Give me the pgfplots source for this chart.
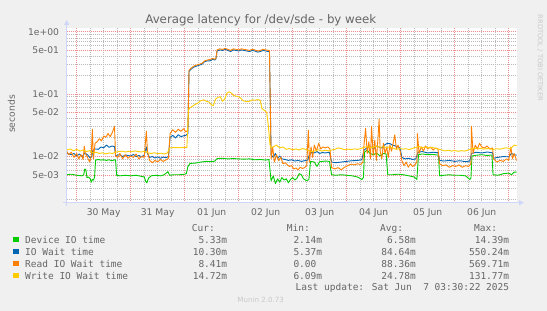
\documentclass[border=0pt]{standalone}
\usepackage{pgfplots}
\pgfplotsset{compat=1.18}
\usepackage{fontspec}
\setmainfont{DejaVu Sans}
\newfontfamily\monofont{DejaVu Sans Mono}
\usetikzlibrary{arrows.meta}
\definecolor{bg}{HTML}{F0F0F0}
\definecolor{fontc}{HTML}{666666}
\definecolor{axisc}{HTML}{CFD6F8}
\definecolor{majc}{HTML}{EE9090}
\definecolor{minc}{HTML}{BBBBBB}
\definecolor{wmark}{HTML}{C8C8C8}
\definecolor{cgreen}{HTML}{00CC00}
\definecolor{cblue}{HTML}{0066B3}
\definecolor{corange}{HTML}{FF8000}
\definecolor{cyellow}{HTML}{FFCC00}
\begin{document}
\begin{tikzpicture}[x=1pt,y=1pt]
\path[use as bounding box, fill=bg] (0,0) rectangle (547,311);
\begin{axis}[
  at={(66.7pt,108.3pt)}, anchor=south west,
  scale only axis, width=450pt, height=174.7pt,
  xmin=-0.185, xmax=8.148,
  ymode=log, ymin=1.774e-3, ymax=1.148,
  axis line style={draw=none},
  axis background/.style={fill=white},
  xtick={0,1,2,3,4,5,6,7,8}, xticklabels={},
  minor xtick={0.25,0.5,...,8},
  extra x ticks={0.5,1.5,2.5,3.5,4.5,5.5,6.5,7.5},
  extra x tick labels={30 May,31 May,01 Jun,02 Jun,03 Jun,04 Jun,05 Jun,06 Jun},
  extra x tick style={grid=none},
  ytick={0.005,0.01,0.05,0.1,0.5,1},
  yticklabels={5e-03,1e-02,5e-02,1e-01,5e-01,1e+00},
  minor ytick={0.002,0.003,0.004,0.006,0.007,0.008,0.009,0.02,0.03,0.04,0.06,0.07,0.08,0.09,0.2,0.3,0.4,0.6,0.7,0.8,0.9},
  grid=both,
  major grid style={draw=majc, dash pattern=on 1pt off 1pt, line width=0.45pt},
  minor grid style={draw=minc, dash pattern=on 1pt off 1pt, line width=0.45pt},
  major tick length=0pt, minor tick length=0pt,
  tick label style={font=\fontsize{9.2}{11}\selectfont, text=fontc},
  xticklabel style={anchor=north, inner sep=0pt, yshift=-6pt},
  yticklabel style={anchor=east, inner sep=0pt, xshift=-7.5pt},
  every axis plot/.append style={line width=0.9pt, line join=round, mark=none},
]
% Device IO time
\addplot[cgreen] coordinates {
(-0.185,0.0050)(-0.1,0.0051)(0.0,0.0049)(0.1,0.0048)(0.13,0.0050)(0.15,0.0062)(0.17,0.0060)(0.19,0.0045)(0.22,0.0046)(0.25,0.0043)(0.27,0.0038)(0.29,0.0042)(0.31,0.0041)(0.33,0.0045)
(0.35,0.0086)(0.4,0.0088)(0.45,0.0086)(0.5,0.0087)(0.55,0.0085)(0.6,0.0087)(0.65,0.0084)(0.7,0.0087)(0.72,0.0086)
(0.74,0.0049)(0.8,0.0048)(0.9,0.0049)(1.0,0.0048)(1.1,0.0049)(1.2,0.0047)(1.25,0.0046)(1.28,0.0039)(1.3,0.0037)(1.33,0.0044)(1.38,0.0048)(1.45,0.0049)(1.55,0.0048)(1.62,0.0050)(1.69,0.0056)(1.72,0.0049)(1.8,0.0050)(1.9,0.0050)(2.0,0.0051)(2.03,0.0052)
(2.06,0.0068)(2.1,0.0076)(2.2,0.0077)(2.3,0.0080)(2.4,0.0082)(2.5,0.0081)(2.56,0.0083)(2.6,0.0091)(2.7,0.0092)(2.8,0.0090)(2.9,0.0091)(3.0,0.0090)(3.1,0.0089)(3.2,0.0090)(3.3,0.0087)(3.4,0.0088)(3.5,0.0086)(3.56,0.0088)
(3.6,0.0040)(3.64,0.0048)(3.68,0.0036)(3.72,0.0043)(3.76,0.0038)(3.8,0.0045)(3.84,0.0041)(3.88,0.0043)(3.92,0.0037)(3.96,0.0042)(4.0,0.0045)(4.04,0.0041)(4.08,0.0044)(4.12,0.0052)(4.16,0.0050)(4.2,0.0043)(4.26,0.0040)(4.3,0.0042)
(4.33,0.0082)(4.4,0.0080)(4.45,0.0068)(4.5,0.0081)(4.6,0.0083)(4.68,0.0082)
(4.72,0.0050)(4.8,0.0049)(4.9,0.0050)(5.0,0.0049)(5.1,0.0048)(5.2,0.0046)(5.28,0.0042)(5.31,0.0045)
(5.33,0.0115)(5.38,0.0125)(5.43,0.0110)(5.5,0.0105)(5.55,0.0112)(5.62,0.0100)(5.68,0.0110)(5.73,0.0108)
(5.76,0.0050)(5.85,0.0050)(5.95,0.0051)(6.05,0.0050)(6.15,0.0048)(6.25,0.0046)(6.3,0.0042)
(6.33,0.0105)(6.4,0.0108)(6.5,0.0105)(6.6,0.0106)(6.7,0.0103)
(6.72,0.0048)(6.8,0.0049)(6.9,0.0050)(7.0,0.0049)(7.1,0.0049)(7.2,0.0048)(7.28,0.0042)(7.3,0.0044)
(7.32,0.0100)(7.4,0.0103)(7.5,0.0105)(7.6,0.0102)(7.69,0.0104)
(7.71,0.0050)(7.8,0.0049)(7.9,0.0052)(8.0,0.0053)(8.05,0.0050)(8.1,0.0055)(8.148,0.0055)
};
% IO Wait time
\addplot[cblue] coordinates {
(-0.185,0.0112)(-0.15,0.0108)(-0.1,0.0105)(-0.05,0.0110)(0.0,0.0100)(0.05,0.0108)(0.1,0.0097)(0.15,0.0112)(0.2,0.0105)(0.25,0.0093)(0.28,0.0098)
(0.3,0.0125)(0.35,0.0130)(0.4,0.0128)(0.45,0.0140)(0.5,0.0135)(0.55,0.0150)(0.6,0.0138)(0.65,0.0145)(0.7,0.0142)
(0.72,0.0102)(0.8,0.0105)(0.85,0.0098)(0.9,0.0104)(1.0,0.0100)(1.05,0.0106)(1.1,0.0098)(1.15,0.0102)(1.2,0.0097)(1.25,0.0103)(1.29,0.0140)(1.31,0.0110)(1.35,0.0095)(1.4,0.0098)(1.45,0.0093)(1.5,0.0097)(1.55,0.0092)(1.6,0.0096)(1.65,0.0094)(1.7,0.0098)
(1.73,0.0200)(1.78,0.0215)(1.83,0.0195)(1.88,0.0220)(1.93,0.0205)(1.98,0.0212)(2.02,0.0215)(2.06,0.0230)
(2.08,0.23)(2.12,0.25)(2.17,0.27)(2.22,0.28)(2.27,0.29)(2.32,0.30)(2.37,0.33)(2.42,0.34)(2.47,0.34)(2.52,0.36)(2.56,0.35)(2.58,0.37)
(2.6,0.49)(2.65,0.51)(2.7,0.50)(2.75,0.52)(2.8,0.50)(2.85,0.48)(2.9,0.51)(2.95,0.50)(3.0,0.49)(3.05,0.51)(3.1,0.50)(3.15,0.49)(3.2,0.48)(3.25,0.50)(3.3,0.49)(3.35,0.47)(3.4,0.48)(3.45,0.50)(3.5,0.49)(3.55,0.48)(3.57,0.47)
(3.6,0.0105)(3.64,0.0095)(3.68,0.0110)(3.72,0.0092)(3.76,0.0100)(3.8,0.0090)(3.86,0.0088)(3.92,0.0085)(3.98,0.0087)(4.04,0.0083)(4.1,0.0085)(4.16,0.0082)(4.22,0.0084)(4.28,0.0086)
(4.3,0.0100)(4.35,0.0115)(4.4,0.0112)(4.45,0.0118)(4.5,0.0110)(4.55,0.0114)(4.6,0.0112)(4.68,0.0115)
(4.72,0.0080)(4.8,0.0078)(4.9,0.0080)(5.0,0.0082)(5.1,0.0084)(5.2,0.0085)(5.28,0.0087)
(5.32,0.0125)(5.38,0.0135)(5.45,0.0140)(5.5,0.0130)(5.55,0.0145)(5.6,0.0140)(5.65,0.0135)(5.7,0.0150)(5.75,0.0160)(5.8,0.0158)(5.85,0.0150)(5.9,0.0145)(5.95,0.0140)(5.99,0.0135)
(6.02,0.0095)(6.08,0.0090)(6.15,0.0092)(6.22,0.0088)(6.28,0.0090)
(6.32,0.0115)(6.4,0.0118)(6.5,0.0112)(6.6,0.0115)(6.69,0.0113)
(6.72,0.0085)(6.8,0.0083)(6.9,0.0085)(7.0,0.0082)(7.1,0.0084)(7.2,0.0081)(7.28,0.0083)
(7.31,0.0110)(7.4,0.0115)(7.5,0.0112)(7.6,0.0116)(7.7,0.0113)
(7.72,0.0092)(7.8,0.0095)(7.9,0.0098)(8.0,0.0097)(8.05,0.0110)(8.1,0.0105)(8.148,0.0103)
};
% Read IO Wait time
\addplot[corange] coordinates {
(-0.185,0.0120)(-0.15,0.0105)(-0.1,0.0115)(-0.05,0.0095)(0.0,0.0110)(0.04,0.0090)(0.08,0.0105)(0.12,0.0088)(0.14,0.0144)(0.16,0.0110)(0.2,0.0095)(0.24,0.0080)(0.27,0.0100)(0.29,0.0270)(0.31,0.0090)
(0.34,0.0160)(0.38,0.0170)(0.42,0.0190)(0.46,0.0175)(0.5,0.0210)(0.54,0.0200)(0.58,0.0230)(0.62,0.0205)(0.66,0.0240)(0.7,0.0300)
(0.72,0.0100)(0.76,0.0095)(0.8,0.0110)(0.85,0.0090)(0.9,0.0105)(0.95,0.0092)(1.0,0.0100)(1.05,0.0095)(1.1,0.0108)(1.15,0.0090)(1.2,0.0098)(1.25,0.0095)(1.29,0.0250)(1.31,0.0120)
(1.35,0.0085)(1.4,0.0078)(1.45,0.0085)(1.5,0.0080)(1.55,0.0088)(1.6,0.0082)(1.65,0.0086)(1.7,0.0092)
(1.73,0.0230)(1.78,0.0265)(1.83,0.0240)(1.88,0.0270)(1.93,0.0250)(1.98,0.0275)(2.02,0.0245)(2.06,0.0260)
(2.08,0.24)(2.12,0.26)(2.17,0.28)(2.22,0.29)(2.27,0.30)(2.32,0.31)(2.37,0.34)(2.42,0.35)(2.47,0.36)(2.52,0.37)(2.56,0.36)(2.58,0.38)
(2.6,0.51)(2.65,0.53)(2.7,0.52)(2.75,0.54)(2.8,0.52)(2.85,0.50)(2.9,0.53)(2.95,0.52)(3.0,0.51)(3.05,0.53)(3.1,0.52)(3.15,0.51)(3.2,0.50)(3.25,0.52)(3.3,0.51)(3.35,0.49)(3.4,0.50)(3.45,0.52)(3.5,0.51)(3.55,0.50)(3.57,0.49)
(3.6,0.0090)(3.63,0.0140)(3.66,0.0080)(3.7,0.0105)(3.74,0.0085)(3.78,0.0095)(3.82,0.0075)(3.86,0.0078)(3.9,0.0072)(3.94,0.0068)(3.98,0.0070)(4.02,0.0062)(4.06,0.0064)(4.1,0.0060)(4.14,0.0066)(4.18,0.0063)(4.22,0.0065)(4.26,0.0070)
(4.29,0.0260)(4.31,0.0080)(4.34,0.0140)(4.37,0.0095)(4.4,0.0150)(4.44,0.0120)(4.48,0.0160)(4.52,0.0130)(4.56,0.0140)(4.6,0.0135)(4.65,0.0140)(4.69,0.0130)
(4.72,0.0065)(4.78,0.0062)(4.84,0.0065)(4.9,0.0060)(4.96,0.0066)(5.02,0.0070)(5.08,0.0074)(5.14,0.0072)(5.2,0.0075)(5.26,0.0073)(5.3,0.0080)
(5.32,0.0150)(5.35,0.0280)(5.38,0.0110)(5.41,0.0170)(5.44,0.0090)(5.46,0.0300)(5.49,0.0100)(5.52,0.0180)(5.55,0.0085)(5.58,0.0200)(5.6,0.0390)(5.62,0.0120)(5.65,0.0090)(5.68,0.0160)(5.71,0.0110)(5.74,0.0140)(5.77,0.0095)(5.8,0.0150)(5.83,0.0120)(5.86,0.0160)(5.89,0.0220)(5.92,0.0130)(5.95,0.0150)(5.99,0.0120)
(6.02,0.0085)(6.06,0.0070)(6.1,0.0080)(6.14,0.0066)(6.18,0.0075)(6.22,0.0068)(6.26,0.0072)(6.3,0.0080)
(6.31,0.0230)(6.34,0.0110)(6.38,0.0140)(6.42,0.0120)(6.46,0.0145)(6.5,0.0130)(6.55,0.0140)(6.6,0.0125)(6.65,0.0135)(6.69,0.0130)
(6.72,0.0075)(6.78,0.0070)(6.84,0.0072)(6.9,0.0066)(6.96,0.0070)(7.02,0.0068)(7.08,0.0072)(7.14,0.0066)(7.2,0.0070)(7.26,0.0068)(7.3,0.0075)
(7.31,0.0300)(7.34,0.0110)(7.38,0.0150)(7.42,0.0130)(7.46,0.0160)(7.5,0.0140)(7.55,0.0135)(7.6,0.0145)(7.65,0.0130)(7.7,0.0135)
(7.72,0.0090)(7.78,0.0080)(7.84,0.0085)(7.9,0.0082)(7.96,0.0090)(8.0,0.0085)(8.04,0.0140)(8.07,0.0090)(8.1,0.0110)(8.148,0.0084)
};
% Write IO Wait time
\addplot[cyellow] coordinates {
(-0.185,0.0125)(-0.12,0.0130)(-0.06,0.0122)(0.0,0.0128)(0.06,0.0120)(0.12,0.0125)(0.18,0.0118)(0.24,0.0122)(0.3,0.0112)(0.36,0.0115)(0.42,0.0110)(0.48,0.0113)(0.54,0.0108)(0.6,0.0112)(0.66,0.0110)(0.72,0.0115)(0.78,0.0118)(0.84,0.0120)(0.9,0.0116)(0.96,0.0119)(1.02,0.0117)(1.08,0.0121)(1.14,0.0118)(1.2,0.0116)(1.26,0.0120)(1.32,0.0112)(1.38,0.0110)(1.44,0.0113)(1.5,0.0109)(1.56,0.0111)(1.62,0.0108)(1.68,0.0112)
(1.72,0.0135)(1.8,0.0137)(1.9,0.0136)(2.0,0.0138)(2.04,0.0137)
(2.07,0.055)(2.1,0.060)(2.15,0.064)(2.2,0.068)(2.25,0.072)(2.3,0.078)(2.35,0.080)(2.4,0.076)(2.45,0.074)(2.5,0.066)(2.53,0.065)(2.57,0.082)(2.62,0.088)(2.66,0.090)(2.7,0.076)(2.74,0.082)(2.78,0.102)(2.82,0.108)(2.86,0.104)(2.9,0.095)(2.95,0.092)(3.0,0.090)(3.04,0.085)(3.08,0.078)(3.14,0.075)(3.2,0.076)(3.25,0.080)(3.3,0.079)(3.36,0.081)(3.4,0.078)(3.43,0.058)(3.48,0.054)(3.52,0.050)(3.55,0.030)(3.58,0.0150)
(3.6,0.0135)(3.64,0.0140)(3.7,0.0150)(3.76,0.0135)(3.82,0.0140)(3.88,0.0128)(3.94,0.0132)(4.0,0.0126)(4.06,0.0130)(4.12,0.0125)(4.18,0.0132)(4.24,0.0128)(4.3,0.0122)(4.36,0.0118)(4.42,0.0122)(4.48,0.0126)(4.54,0.0120)(4.6,0.0124)(4.66,0.0121)(4.72,0.0125)(4.78,0.0128)(4.84,0.0135)(4.9,0.0132)(4.96,0.0126)(5.02,0.0129)(5.08,0.0127)(5.14,0.0130)(5.2,0.0128)(5.26,0.0132)
(5.32,0.0138)(5.38,0.0142)(5.44,0.0136)(5.5,0.0140)(5.56,0.0144)(5.62,0.0138)(5.68,0.0141)(5.74,0.0137)(5.8,0.0140)(5.86,0.0134)(5.92,0.0128)(5.98,0.0132)(6.04,0.0129)(6.1,0.0131)(6.16,0.0127)(6.22,0.0133)(6.28,0.0138)(6.34,0.0142)(6.4,0.0136)(6.46,0.0140)(6.52,0.0135)(6.58,0.0138)(6.64,0.0133)(6.7,0.0129)
(6.76,0.0125)(6.82,0.0121)(6.88,0.0124)(6.94,0.0120)(7.0,0.0123)(7.06,0.0119)(7.12,0.0122)(7.18,0.0120)(7.24,0.0124)(7.3,0.0130)(7.36,0.0134)(7.42,0.0130)(7.48,0.0133)(7.54,0.0129)(7.6,0.0132)(7.66,0.0130)(7.72,0.0128)(7.78,0.0131)(7.84,0.0129)(7.9,0.0133)(7.96,0.0136)(8.02,0.0130)(8.06,0.0138)(8.1,0.0150)(8.148,0.0147)
};
\end{axis}
% axis lines with arrows
\draw[axisc, line width=1pt, -{Triangle[length=5pt,width=5pt]}] (63,108.3) -- (524,108.3);
\draw[axisc, line width=1pt, -{Triangle[length=5pt,width=5pt]}] (66.7,105) -- (66.7,291);
% titles
\node[anchor=base, text=fontc, font=\fontsize{11.8}{14}\selectfont, inner sep=0pt] at (260.8,287.4) {Average latency for /dev/sde - by week};
\node[rotate=90, text=fontc, font=\fontsize{9.2}{11}\selectfont, inner sep=0pt] at (11.5,197) {seconds};
\node[rotate=-90, text=wmark, font=\fontsize{6.7}{8}\selectfont, inner sep=0pt] at (540,253) {RRDTOOL / TOBI OETIKER};
% legend
\begin{scope}[every node/.style={inner sep=0pt, text=fontc, font=\monofont\fontsize{9.5}{11}\selectfont}]
\node[anchor=base east] at (215,79.9) {Cur:};
\node[anchor=base east] at (310,79.9) {Min:};
\node[anchor=base east] at (403.3,79.9) {Avg:};
\node[anchor=base east] at (497.3,79.9) {Max:};
\fill[cgreen] (13.3,68.7) rectangle (18.7,74);
\node[anchor=base west] at (25,67.9) {Device IO time};
\node[anchor=base east] at (227.3,67.9) {5.33m};
\node[anchor=base east] at (322.3,67.9) {2.14m};
\node[anchor=base east] at (416,67.9) {6.58m};
\node[anchor=base east] at (509.3,67.9) {14.39m};
\fill[cblue] (13.3,56.7) rectangle (18.7,62);
\node[anchor=base west] at (25,55.9) {IO Wait time};
\node[anchor=base east] at (227.3,55.9) {10.30m};
\node[anchor=base east] at (322.3,55.9) {5.37m};
\node[anchor=base east] at (416,55.9) {84.64m};
\node[anchor=base east] at (509.3,55.9) {550.24m};
\fill[corange] (13.3,44.7) rectangle (18.7,50);
\node[anchor=base west] at (25,43.9) {Read IO Wait time};
\node[anchor=base east] at (227.3,43.9) {8.41m};
\node[anchor=base east] at (316.6,43.9) {0.00};
\node[anchor=base east] at (416,43.9) {88.36m};
\node[anchor=base east] at (509.3,43.9) {569.71m};
\fill[cyellow] (13.3,32.7) rectangle (18.7,38);
\node[anchor=base west] at (25,31.9) {Write IO Wait time};
\node[anchor=base east] at (227.3,31.9) {14.72m};
\node[anchor=base east] at (322.3,31.9) {6.09m};
\node[anchor=base east] at (416,31.9) {24.78m};
\node[anchor=base east] at (509.3,31.9) {131.77m};
\node[anchor=base east] at (509.3,20.3) {Last update: Sat Jun\ \ 7 03:30:22 2025};
\end{scope}
\node[text=wmark, font=\fontsize{7.1}{8}\selectfont, inner sep=0pt] at (260.7,11) {Munin 2.0.73};
\end{tikzpicture}
\end{document}
